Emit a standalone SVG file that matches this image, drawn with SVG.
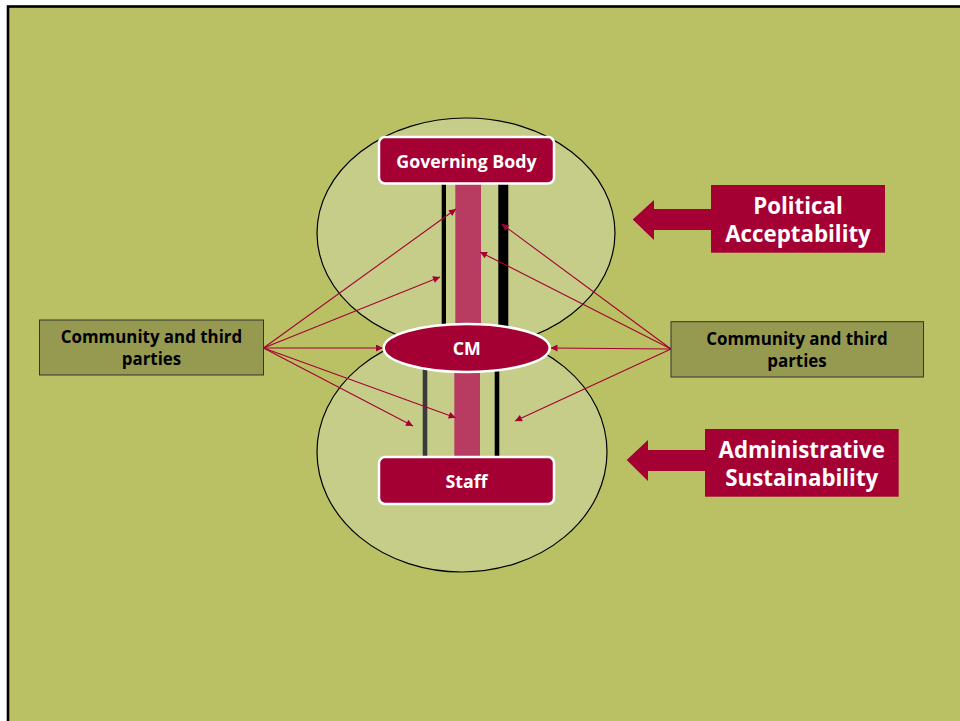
<svg xmlns="http://www.w3.org/2000/svg" width="960" height="721" viewBox="0 0 960 721">
<defs>
<style>
.lbl{font-family:"Open Sans","Noto Sans","DejaVu Sans",sans-serif;font-weight:bold;text-anchor:middle}
.wt{fill:#ffffff}
.bk{fill:#000000}
.node{fill:#a50034;stroke:#ffffff;stroke-width:2.5}
.conn{stroke:#a50034;stroke-width:1.1;fill:none;marker-end:url(#ah)}
.ctp{fill:#959a50;stroke:#333333;stroke-width:1}
.big{fill:#c5cd89;stroke:#000000;stroke-width:1.2}
</style>
<marker id="ah" viewBox="0 0 10 10" refX="10" refY="5" markerWidth="10" markerHeight="7" markerUnits="userSpaceOnUse" orient="auto">
<path d="M0,0 L10,5 L0,10 Z" fill="#a50034"/>
</marker>
</defs>
<rect x="0" y="0" width="960" height="721" fill="#ffffff"/>
<rect x="8" y="6.5" width="970" height="730" fill="#b9c164" stroke="#000000" stroke-width="2.6"/>
<g id="ellipse-political">
<ellipse cx="466" cy="233" rx="149" ry="115" class="big"/>
</g>
<g id="ellipse-administrative">
<ellipse cx="462" cy="452" rx="145" ry="120" class="big"/>
</g>
<g id="bars">
<rect x="441.7" y="183" width="4.3" height="143" fill="#000000"/>
<rect x="455.3" y="183" width="25.7" height="143" fill="#b83c62"/>
<rect x="498.3" y="180" width="10" height="146" fill="#000000"/>
<rect x="422.7" y="368" width="4.6" height="90" fill="#3a3a3a"/>
<rect x="454.3" y="368" width="25.7" height="90" fill="#b83c62"/>
<rect x="494.7" y="368" width="4.6" height="90" fill="#000000"/>
</g>
<g id="governing-body">
<rect x="379" y="137" width="175" height="46.5" rx="6" class="node"/>
<text x="466.5" y="168" class="lbl wt" font-size="17.8">Governing Body</text>
</g>
<g id="staff">
<rect x="379" y="457" width="175" height="47" rx="6" class="node"/>
<text x="466.5" y="488" class="lbl wt" font-size="17.8">Staff</text>
</g>
<g id="connectors">
<line x1="263.5" y1="348" x2="456" y2="209" class="conn"/>
<line x1="263.5" y1="348" x2="440" y2="277" class="conn"/>
<line x1="263.5" y1="348" x2="383" y2="348" class="conn"/>
<line x1="263.5" y1="348" x2="455.7" y2="417.7" class="conn"/>
<line x1="263.5" y1="348" x2="413" y2="426" class="conn"/>
<line x1="671" y1="349" x2="501.7" y2="224" class="conn"/>
<line x1="671" y1="349" x2="480" y2="252" class="conn"/>
<line x1="671" y1="349" x2="550.5" y2="348" class="conn"/>
<line x1="671" y1="349" x2="515" y2="421" class="conn"/>
</g>
<g id="cm">
<ellipse cx="466.7" cy="348" rx="83" ry="24" class="node"/>
<text x="466.7" y="355" class="lbl wt" font-size="17.8">CM</text>
</g>
<g id="community-left">
<rect x="39.5" y="320" width="224" height="55" class="ctp"/>
<text class="lbl bk" font-size="16.9"><tspan x="151.5" y="343">Community and third</tspan><tspan x="151.5" y="365">parties</tspan></text>
</g>
<g id="community-right">
<rect x="671" y="321.7" width="252.5" height="55.3" class="ctp"/>
<text class="lbl bk" font-size="16.9"><tspan x="797" y="345">Community and third</tspan><tspan x="797" y="367">parties</tspan></text>
</g>
<g id="political-acceptability">
<path d="M632.7,219.5 L654,200 L654,209 L711,209 L711,230 L654,230 L654,240 Z" fill="#a50034"/>
<rect x="711" y="185" width="174" height="67.7" fill="#a50034"/>
<text class="lbl wt" font-size="22.3"><tspan x="798" y="214">Political</tspan><tspan x="798" y="242">Acceptability</tspan></text>
</g>
<g id="administrative-sustainability">
<path d="M626.7,460 L648,440 L648,450 L705,450 L705,471 L648,471 L648,481 Z" fill="#a50034"/>
<rect x="705" y="429" width="193.7" height="67.7" fill="#a50034"/>
<text class="lbl wt" font-size="22.3"><tspan x="801.8" y="457.5">Administrative</tspan><tspan x="801.8" y="486">Sustainability</tspan></text>
</g>
</svg>
